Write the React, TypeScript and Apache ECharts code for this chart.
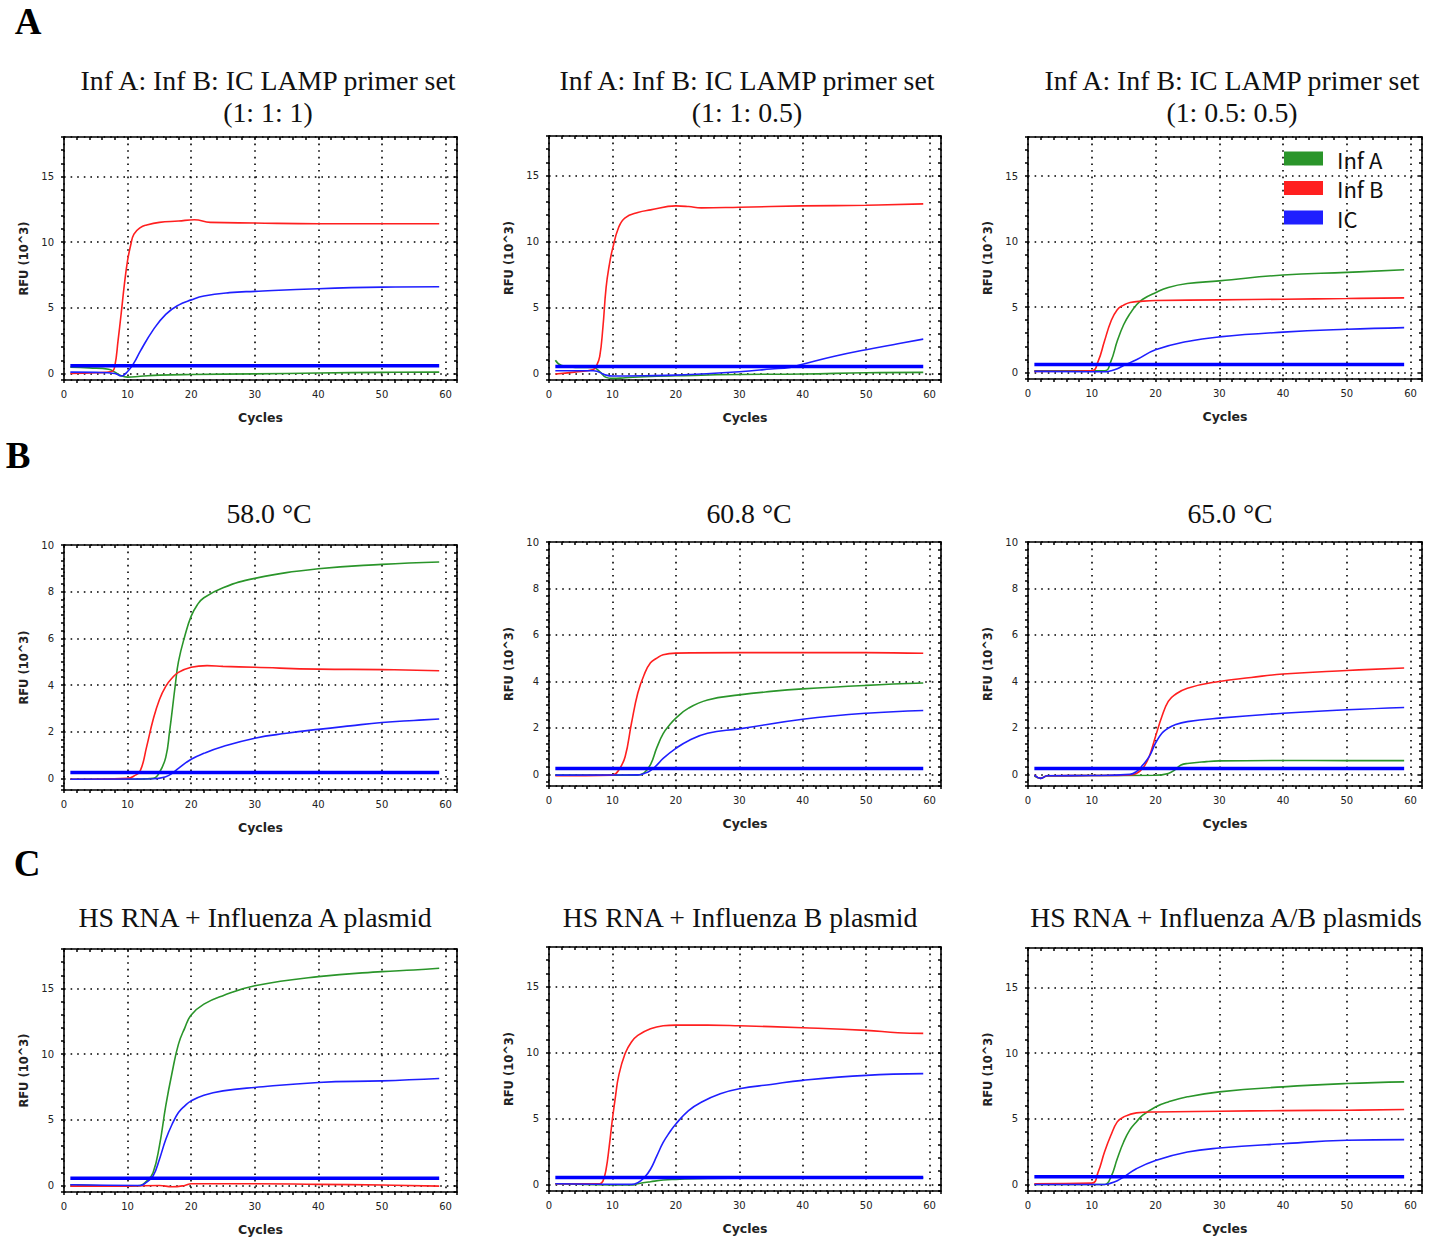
import React, { useEffect, useRef } from "react";
import * as echarts from "echarts";

// ---------- Data (RFU in 10^3) ----------
// Panel A1: Inf A : Inf B : IC = 1 : 1 : 1
const a1InfACycles = [1, 4, 7, 8, 9, 10, 12, 15, 20, 30, 40, 50, 59];
const a1InfARfu = [0.48, 0.42, 0.32, 0.1, -0.18, -0.28, -0.22, -0.13, -0.08, -0.03, 0.03, 0.08, 0.1];
const a1InfBCycles = [1, 5, 7.5, 8, 8.5, 9, 9.5, 10, 10.5, 11, 12, 13, 15, 18, 20.5, 23, 30, 40, 50, 59];
const a1InfBRfu = [0, 0.05, 0.15, 0.6, 2.5, 4.6, 6.8, 8.6, 9.8, 10.6, 11.1, 11.3, 11.5, 11.6, 11.7, 11.5, 11.45, 11.4, 11.4, 11.4];
const a1IcCycles = [1, 5, 8, 9, 10, 11, 12, 14, 16, 18, 20, 22, 26, 30, 40, 50, 59];
const a1IcRfu = [0.1, 0.08, 0.0, -0.2, 0.15, 0.8, 1.7, 3.3, 4.5, 5.2, 5.6, 5.9, 6.15, 6.25, 6.45, 6.57, 6.6];

// Panel A2: 1 : 1 : 0.5
const a2InfACycles = [1, 2, 5, 7, 8, 9, 10, 12, 15, 20, 30, 40, 50, 59];
const a2InfARfu = [1.0, 0.6, 0.45, 0.45, 0.13, -0.3, -0.38, -0.33, -0.25, -0.18, -0.08, -0.05, 0.05, 0.08];
const a2InfBCycles = [1, 4, 7, 7.5, 8, 8.5, 9, 9.5, 10, 11, 12, 14, 16, 20, 22, 24, 30, 40, 50, 59];
const a2InfBRfu = [-0.05, 0.1, 0.3, 0.6, 1.3, 3.5, 6.5, 8.2, 9.4, 11.1, 11.8, 12.2, 12.4, 12.7, 12.65, 12.55, 12.6, 12.7, 12.75, 12.85];
const a2IcCycles = [1, 7, 9, 10, 15, 20, 30, 35, 38, 40, 45, 50, 55, 59];
const a2IcRfu = [0.2, 0.2, -0.13, -0.2, -0.18, -0.13, 0.13, 0.33, 0.46, 0.7, 1.3, 1.8, 2.25, 2.6];

// Panel A3: 1 : 0.5 : 0.5
const a3InfACycles = [1, 12, 13, 14, 15, 16, 17, 18, 20, 22, 25, 30, 40, 50, 59];
const a3InfARfu = [0.13, 0.13, 0.85, 2.4, 3.65, 4.5, 5.15, 5.6, 6.1, 6.5, 6.8, 7.0, 7.45, 7.65, 7.85];
const a3InfBCycles = [1, 10, 11, 12, 13, 14, 15, 16, 18, 20, 30, 40, 50, 59];
const a3InfBRfu = [0.08, 0.13, 0.85, 2.4, 3.9, 4.8, 5.15, 5.35, 5.45, 5.5, 5.55, 5.6, 5.65, 5.7];
const a3IcCycles = [1, 12, 13, 14, 15, 17, 20, 25, 30, 40, 50, 59];
const a3IcRfu = [0.08, 0.05, 0.13, 0.28, 0.53, 0.97, 1.73, 2.37, 2.72, 3.08, 3.3, 3.43];

// Panel B1: 58.0 °C
const b1InfACycles = [1, 10, 14, 15, 16, 16.6, 17.5, 18, 19, 20, 21, 22, 25, 30, 40, 50, 59];
const b1InfARfu = [-0.04, -0.04, 0.0, 0.25, 0.9, 2.0, 4.0, 5.0, 6.1, 6.95, 7.45, 7.74, 8.17, 8.57, 8.98, 9.17, 9.27];
const b1InfBCycles = [1, 10, 11, 12, 13, 14, 15, 16, 17, 18, 20, 22.5, 25, 30, 40, 50, 59];
const b1InfBRfu = [-0.04, 0, 0.1, 0.33, 1.36, 2.5, 3.37, 3.94, 4.3, 4.54, 4.76, 4.83, 4.8, 4.76, 4.68, 4.66, 4.61];
const b1IcCycles = [1, 14, 16, 17, 18, 20, 22, 25, 30, 35, 40, 45, 50, 55, 59];
const b1IcRfu = [-0.04, -0.02, 0.07, 0.21, 0.43, 0.82, 1.07, 1.36, 1.72, 1.93, 2.1, 2.25, 2.39, 2.48, 2.54];

// Panel B2: 60.8 °C
const b2InfACycles = [1, 14, 15, 16, 17, 18, 19, 20, 22, 25, 30, 35, 40, 50, 59];
const b2InfARfu = [-0.03, -0.03, 0.07, 0.42, 1.15, 1.75, 2.12, 2.42, 2.85, 3.2, 3.42, 3.57, 3.68, 3.83, 3.93];
const b2InfBCycles = [1, 10, 11, 12, 13, 14, 15, 16, 17, 18, 20, 30, 40, 50, 59];
const b2InfBRfu = [-0.06, -0.03, 0.19, 0.76, 2.2, 3.5, 4.29, 4.8, 5.0, 5.15, 5.22, 5.24, 5.24, 5.24, 5.21];
const b2IcCycles = [1, 14, 15, 16, 17, 18, 20, 22, 25, 30, 40, 50, 59];
const b2IcRfu = [-0.03, -0.02, 0.04, 0.16, 0.4, 0.69, 1.12, 1.45, 1.77, 1.96, 2.37, 2.63, 2.75];

// Panel B3: 65.0 °C
const b3InfACycles = [1, 2, 3, 10, 20, 22, 23, 24, 25, 28, 30, 40, 50, 59];
const b3InfARfu = [-0.07, -0.17, -0.07, -0.05, -0.04, 0.04, 0.19, 0.4, 0.47, 0.55, 0.58, 0.6, 0.59, 0.59];
const b3InfBCycles = [1, 2, 3, 10, 16, 17, 18, 19, 20, 21, 22, 23, 25, 30, 35, 40, 50, 59];
const b3InfBRfu = [-0.03, -0.17, -0.06, -0.05, -0.02, 0.04, 0.26, 0.76, 1.63, 2.49, 3.14, 3.42, 3.71, 4.0, 4.17, 4.32, 4.47, 4.58];
const b3IcCycles = [1, 2, 3, 10, 16, 17, 18, 19, 20, 21, 22, 23, 25, 30, 40, 50, 59];
const b3IcRfu = [-0.03, -0.17, -0.06, -0.05, 0, 0.12, 0.4, 0.76, 1.34, 1.77, 1.99, 2.13, 2.27, 2.42, 2.63, 2.78, 2.88];

// Panel C1: HS RNA + Influenza A plasmid
const c1InfACycles = [1, 10, 12, 13, 14, 15, 16, 17, 18, 19, 20, 22, 25, 30, 40, 50, 55, 59];
const c1InfARfu = [0.05, -0.05, 0, 0.33, 0.97, 3.0, 6.06, 8.6, 10.76, 12.0, 12.98, 13.8, 14.45, 15.2, 15.9, 16.28, 16.4, 16.54];
const c1InfBCycles = [1, 10, 15, 17, 19, 20, 30, 40, 50, 59];
const c1InfBRfu = [-0.05, -0.05, 0, -0.1, 0, 0.13, 0.13, 0.08, 0.03, -0.05];
const c1IcCycles = [1, 12, 13, 14, 15, 16, 17, 18, 19, 20, 22, 25, 30, 40, 50, 59];
const c1IcRfu = [0.05, 0, 0.25, 0.71, 1.98, 3.5, 4.66, 5.55, 6.06, 6.44, 6.87, 7.2, 7.46, 7.84, 7.96, 8.14];

// Panel C2: HS RNA + Influenza B plasmid
const c2InfACycles = [1, 13, 14, 16, 18, 20, 25, 30, 40, 50, 59];
const c2InfARfu = [0.05, -0.05, 0.05, 0.2, 0.33, 0.38, 0.46, 0.48, 0.5, 0.5, 0.5];
const c2InfBCycles = [1, 8, 8.5, 9, 9.5, 10, 10.5, 11, 12, 13, 14, 16, 18, 20, 25, 30, 40, 50, 55, 59];
const c2InfBRfu = [0.05, 0.05, 0.25, 1.15, 2.9, 4.96, 6.74, 8.27, 9.92, 10.8, 11.3, 11.8, 12.03, 12.08, 12.08, 12.03, 11.88, 11.68, 11.5, 11.45];
const c2IcCycles = [1, 13, 14, 15, 16, 17, 18, 19, 20, 22, 24, 27, 30, 35, 40, 50, 59];
const c2IcRfu = [0.05, 0, 0.13, 0.5, 1.15, 2.16, 3.18, 3.94, 4.58, 5.6, 6.23, 6.87, 7.25, 7.58, 7.89, 8.27, 8.4];

// Panel C3: HS RNA + Influenza A/B plasmids
const c3InfACycles = [1, 12, 13, 14, 15, 16, 17, 18, 20, 22, 25, 30, 40, 50, 59];
const c3InfARfu = [0, 0, 0.56, 1.96, 3.23, 4.17, 4.76, 5.27, 5.9, 6.28, 6.67, 7.05, 7.43, 7.68, 7.81];
const c3InfBCycles = [1, 10, 11, 12, 13, 14, 15, 17, 20, 30, 40, 50, 59];
const c3InfBRfu = [0.05, 0.1, 0.94, 2.47, 3.74, 4.76, 5.14, 5.45, 5.52, 5.57, 5.62, 5.65, 5.7];
const c3IcCycles = [1, 12, 13, 14, 15, 17, 20, 25, 30, 40, 50, 59];
const c3IcRfu = [0, 0, 0.1, 0.28, 0.56, 1.2, 1.83, 2.47, 2.77, 3.1, 3.36, 3.41];

// Threshold lines (one per panel, A1..C3) and their cycle span
const thresholdCycles = [1, 59];
const thresholds = [0.58, 0.52, 0.6, 0.25, 0.25, 0.25, 0.54, 0.53, 0.59];

// Axis ranges
const yMaxByPanel = [18, 18, 18, 10, 10, 10, 18, 18, 18];
const yStepByPanel = [5, 5, 5, 2, 2, 2, 5, 5, 5];
const xTicks = [0, 10, 20, 30, 40, 50, 60];

// Titles
const panelTitles = [
  ["Inf A: Inf B: IC LAMP primer set", "(1: 1: 1)"],
  ["Inf A: Inf B: IC LAMP primer set", "(1: 1: 0.5)"],
  ["Inf A: Inf B: IC LAMP primer set", "(1: 0.5: 0.5)"],
  ["58.0 °C"],
  ["60.8 °C"],
  ["65.0 °C"],
  ["HS RNA + Influenza A plasmid"],
  ["HS RNA + Influenza B plasmid"],
  ["HS RNA + Influenza A/B plasmids"],
];
const rowLetters = ["A", "B", "C"];
const seriesNames = ["Inf A", "Inf B", "IC"];

const curves: [number[], number[]][][] = [
  [[a1InfACycles, a1InfARfu], [a1InfBCycles, a1InfBRfu], [a1IcCycles, a1IcRfu]],
  [[a2InfACycles, a2InfARfu], [a2InfBCycles, a2InfBRfu], [a2IcCycles, a2IcRfu]],
  [[a3InfACycles, a3InfARfu], [a3InfBCycles, a3InfBRfu], [a3IcCycles, a3IcRfu]],
  [[b1InfACycles, b1InfARfu], [b1InfBCycles, b1InfBRfu], [b1IcCycles, b1IcRfu]],
  [[b2InfACycles, b2InfARfu], [b2InfBCycles, b2InfBRfu], [b2IcCycles, b2IcRfu]],
  [[b3InfACycles, b3InfARfu], [b3InfBCycles, b3InfBRfu], [b3IcCycles, b3IcRfu]],
  [[c1InfACycles, c1InfARfu], [c1InfBCycles, c1InfBRfu], [c1IcCycles, c1IcRfu]],
  [[c2InfACycles, c2InfARfu], [c2InfBCycles, c2InfBRfu], [c2IcCycles, c2IcRfu]],
  [[c3InfACycles, c3InfARfu], [c3InfBCycles, c3InfBRfu], [c3IcCycles, c3IcRfu]],
];

// ---------- Layout & style ----------
const W = 1435;
const H = 1239;
const colLeft = [64, 549, 1028];
const colWidth = [393, 392, 394];
const rowTop = [[137, 136, 137], [545, 542, 542], [949, 947, 948]];
const rowBottom = [[380, 380, 379], [790, 786, 786], [1192, 1191, 1191]];
const titleY = [[80, 112], [513], [917]];
const titleX = [[268, 747, 1232], [269, 749, 1230], [255, 740, 1226]];
const letterPos = [[28, 21], [18, 455], [27, 863]];

const colors = ["#2a952a", "#ff1f1f", "#1f1fff"];
const thresholdColor = "#0000ff";
const ink = "#111";
const gridDots = { color: "#000", width: 1.6, type: [1.6, 5] as number[] };

function App() {
  const ref = useRef<HTMLDivElement>(null);

  useEffect(() => {
    if (!ref.current) return;
    const chart = echarts.init(ref.current, null, { renderer: "svg" });

    const grids: any[] = [];
    const xAxes: any[] = [];
    const yAxes: any[] = [];
    const series: any[] = [];
    const graphics: any[] = [];

    for (let p = 0; p < 9; p++) {
      const r = Math.floor(p / 3);
      const c = p % 3;
      const top = rowTop[r][c];
      const bottom = rowBottom[r][c];
      grids.push({
        left: colLeft[c],
        top,
        width: colWidth[c],
        height: bottom - top,
        show: false,
      });

      const axisLineStyle = { color: "#000", width: 1.6 };
      const tickStyle = { color: "#000", width: 1.5 };
      const ymax = yMaxByPanel[p];
      const ystep = yStepByPanel[p];
      const yMinorSplit = ystep === 5 ? 5 : 6;

      // bottom x axis
      xAxes.push({
        type: "value",
        gridIndex: p,
        position: "bottom",
        min: xTicks[0],
        max: 61.8,
        interval: xTicks[1] - xTicks[0],
        axisLine: { show: true, onZero: false, lineStyle: axisLineStyle },
        axisTick: { show: true, inside: false, length: 3, lineStyle: tickStyle },
        minorTick: { show: true, splitNumber: 5, length: 3, lineStyle: tickStyle },
        axisLabel: {
          show: true,
          margin: 9,
          fontSize: 10,
          color: "#222",
          fontFamily: "DejaVu Sans",
          showMaxLabel: false,
        },
        splitLine: { show: true, lineStyle: gridDots },
        name: "Cycles",
        nameLocation: "middle",
        nameGap: 31,
        nameTextStyle: {
          fontFamily: "DejaVu Sans",
          fontWeight: "bold",
          fontSize: 12.5,
          color: "#222",
        },
      });
      // top x axis (frame with inward ticks)
      xAxes.push({
        type: "value",
        gridIndex: p,
        position: "top",
        min: xTicks[0],
        max: 61.8,
        interval: xTicks[1] - xTicks[0],
        axisLine: { show: true, onZero: false, lineStyle: axisLineStyle },
        axisTick: { show: true, inside: true, length: 3, lineStyle: tickStyle },
        minorTick: { show: true, splitNumber: 5, length: 3, lineStyle: tickStyle },
        axisLabel: { show: false },
        splitLine: { show: false },
      });
      // left y axis
      yAxes.push({
        type: "value",
        gridIndex: p,
        position: "left",
        min: -0.5,
        max: ymax,
        splitNumber: 4,
        minInterval: ystep,
        maxInterval: ystep,
        axisLine: { show: true, onZero: false, lineStyle: axisLineStyle },
        axisTick: { show: true, inside: false, length: 3, lineStyle: tickStyle },
        minorTick: { show: true, splitNumber: yMinorSplit, length: 3, lineStyle: tickStyle },
        axisLabel: {
          show: true,
          margin: 10,
          fontSize: 10,
          color: "#222",
          fontFamily: "DejaVu Sans",
          showMinLabel: false,
          showMaxLabel: ymax === 10,
        },
        splitLine: { show: true, lineStyle: gridDots },
        name: "RFU (10^3)",
        nameLocation: "middle",
        nameGap: 34,
        nameRotate: 90,
        nameTextStyle: {
          fontFamily: "DejaVu Sans",
          fontWeight: "bold",
          fontSize: 11.5,
          color: "#222",
        },
      });
      // right y axis (frame with inward ticks)
      yAxes.push({
        type: "value",
        gridIndex: p,
        position: "right",
        min: -0.5,
        max: ymax,
        splitNumber: 4,
        minInterval: ystep,
        maxInterval: ystep,
        axisLine: { show: true, onZero: false, lineStyle: axisLineStyle },
        axisTick: { show: true, inside: true, length: 3, lineStyle: tickStyle },
        minorTick: { show: true, splitNumber: yMinorSplit, length: 3, lineStyle: tickStyle },
        axisLabel: { show: false },
        splitLine: { show: false },
      });

      curves[p].forEach(([cyc, rfu], k) => {
        series.push({
          type: "line",
          name: seriesNames[k],
          xAxisIndex: 2 * p,
          yAxisIndex: 2 * p,
          data: cyc.map((x, i) => [x, rfu[i]]),
          showSymbol: false,
          symbol: "none",
          smooth: 0.45,
          lineStyle: { width: 1.6, color: colors[k] },
          itemStyle: { color: colors[k] },
          z: 3,
        });
      });
      series.push({
        type: "line",
        name: "Threshold",
        xAxisIndex: 2 * p,
        yAxisIndex: 2 * p,
        data: thresholdCycles.map((x) => [x, thresholds[p]]),
        showSymbol: false,
        symbol: "none",
        lineStyle: { width: 3.5, color: thresholdColor },
        itemStyle: { color: thresholdColor },
        z: 4,
      });

      // titles
      panelTitles[p].forEach((t, li) => {
        graphics.push({
          type: "text",
          x: titleX[r][c],
          y: titleY[r][li],
          style: {
            text: t,
            align: "center",
            verticalAlign: "middle",
            fontFamily: "Liberation Serif",
            fontSize: 27.8,
            fill: ink,
          },
        });
      });
    }

    rowLetters.forEach((L, i) => {
      graphics.push({
        type: "text",
        x: letterPos[i][0],
        y: letterPos[i][1],
        style: {
          text: L,
          align: "center",
          verticalAlign: "middle",
          fontFamily: "Liberation Serif",
          fontWeight: "bold",
          fontSize: 37,
          fill: "#000",
        },
      });
    });

    chart.setOption({
      animation: false,
      backgroundColor: "#fff",
      grid: grids,
      xAxis: xAxes,
      yAxis: yAxes,
      series,
      legend: {
        data: seriesNames,
        orient: "vertical",
        left: 1279,
        top: 142.5,
        icon: "rect",
        itemWidth: 39,
        itemHeight: 14,
        itemGap: 7.5,
        selectedMode: false,
        textStyle: {
          fontFamily: "Noto Sans CJK KR",
          fontSize: 22,
          lineHeight: 22,
          color: "#111",
          padding: [0, 0, 0, 9],
        },
      },
      graphic: graphics,
    });

    return () => chart.dispose();
  }, []);

  return (
    <div
      ref={ref}
      style={{ position: "absolute", left: 0, top: 0, width: W, height: H }}
    />
  );
}

export default App;
